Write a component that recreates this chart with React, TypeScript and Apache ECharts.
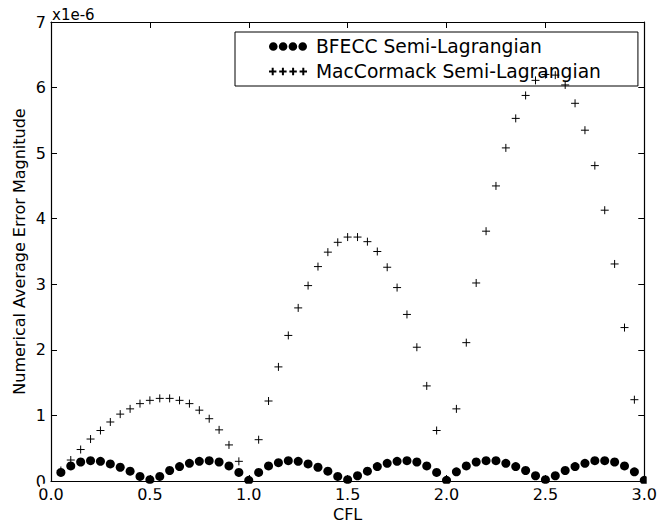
import React, { useEffect, useRef } from "react";
import * as echarts from "echarts";

// CFL values (x axis)
const cfl = [
  0.05, 0.1, 0.15, 0.2, 0.25, 0.3, 0.35, 0.4, 0.45, 0.5,
  0.55, 0.6, 0.65, 0.7, 0.75, 0.8, 0.85, 0.9, 0.95, 1.0,
  1.05, 1.1, 1.15, 1.2, 1.25, 1.3, 1.35, 1.4, 1.45, 1.5,
  1.55, 1.6, 1.65, 1.7, 1.75, 1.8, 1.85, 1.9, 1.95, 2.0,
  2.05, 2.1, 2.15, 2.2, 2.25, 2.3, 2.35, 2.4, 2.45, 2.5,
  2.55, 2.6, 2.65, 2.7, 2.75, 2.8, 2.85, 2.9, 2.95, 3.0,
];

// Error magnitudes in units of 1e-6
const bfeccErr = [
  0.13, 0.23, 0.29, 0.31, 0.30, 0.26, 0.21, 0.15, 0.07, 0.02,
  0.07, 0.16, 0.22, 0.27, 0.30, 0.31, 0.29, 0.23, 0.13, 0.01,
  0.13, 0.23, 0.28, 0.31, 0.30, 0.26, 0.21, 0.15, 0.07, 0.02,
  0.08, 0.15, 0.22, 0.27, 0.30, 0.31, 0.29, 0.23, 0.13, 0.01,
  0.14, 0.23, 0.29, 0.31, 0.31, 0.27, 0.22, 0.16, 0.08, 0.02,
  0.08, 0.16, 0.22, 0.27, 0.31, 0.31, 0.29, 0.23, 0.14, 0.01,
];

const macCormackErr = [
  0.16, 0.32, 0.48, 0.64, 0.77, 0.90, 1.02, 1.10, 1.18, 1.23,
  1.26, 1.26, 1.23, 1.18, 1.08, 0.95, 0.78, 0.55, 0.30, 0.0,
  0.63, 1.22, 1.74, 2.22, 2.64, 2.98, 3.27, 3.49, 3.64, 3.72,
  3.72, 3.65, 3.50, 3.26, 2.95, 2.54, 2.04, 1.45, 0.77, 0.0,
  1.10, 2.11, 3.02, 3.81, 4.50, 5.08, 5.53, 5.88, 6.11, 6.20,
  6.19, 6.04, 5.76, 5.35, 4.81, 4.13, 3.31, 2.34, 1.24, 0.0,
];

const seriesNames = ["BFECC Semi-Lagrangian", "MacCormack Semi-Lagrangian"];
const xTitle = "CFL";
const yTitle = "Numerical Average Error Magnitude";
const offsetText = "x1e-6";

const FONT = "DejaVu Sans";

function circlesPath(): string {
  const r = 4.3;
  let d = "";
  for (let i = 0; i < 4; i++) {
    const cx = r + i * 9.8;
    d += `M${cx - r},${r}A${r},${r},0,1,1,${cx + r},${r}A${r},${r},0,1,1,${cx - r},${r}Z`;
  }
  return "path://" + d;
}

function plusesPath(): string {
  let d = "";
  for (let i = 0; i < 4; i++) {
    const x0 = i * 10.2;
    d += `M${x0},4.3L${x0 + 7.4},4.3M${x0 + 3.7},0.6L${x0 + 3.7},8`;
  }
  return "path://" + d;
}

export default function App() {
  const ref = useRef<HTMLDivElement>(null);
  useEffect(() => {
    if (!ref.current) return;
    const chart = echarts.init(ref.current, undefined, { renderer: "svg" });
    const axisCommon = {
      type: "value" as const,
      axisLine: { show: true, onZero: false, lineStyle: { color: "#000", width: 1.2 } },
      axisTick: { show: true, inside: true, length: 6, lineStyle: { color: "#000", width: 1 } },
      splitLine: { show: false },
    };
    chart.setOption({
      animation: false,
      backgroundColor: "#fff",
      textStyle: { fontFamily: FONT },
      grid: { left: 51, right: 14, top: 22, bottom: 44, containLabel: false },
      xAxis: [
        {
          ...axisCommon,
          position: "bottom",
          min: 0,
          max: 3,
          interval: 0.5,
          axisLabel: {
            color: "#000",
            fontSize: 16,
            fontFamily: FONT,
            margin: 5,
            formatter: (v: number) => v.toFixed(1),
          },
          name: xTitle,
          nameLocation: "middle",
          nameGap: 25,
          nameMoveOverlap: false,
          nameTextStyle: { color: "#000", fontSize: 16, fontFamily: FONT },
        },
        {
          ...axisCommon,
          position: "top",
          min: 0,
          max: 3,
          interval: 0.5,
          axisLabel: { show: false },
        },
      ],
      yAxis: [
        {
          ...axisCommon,
          position: "left",
          min: 0,
          max: 7,
          interval: 1,
          axisLabel: {
            color: "#000",
            fontSize: 16,
            fontFamily: FONT,
            margin: 5,
          },
          name: yTitle,
          nameLocation: "middle",
          nameGap: 24,
          nameMoveOverlap: false,
          nameTextStyle: { color: "#000", fontSize: 16, fontFamily: FONT },
        },
        {
          ...axisCommon,
          position: "right",
          min: 0,
          max: 7,
          interval: 1,
          axisLabel: { show: false },
        },
      ],
      legend: {
        left: 235,
        top: 32,
        orient: "vertical",
        backgroundColor: "#fff",
        borderColor: "#000",
        borderWidth: 1,
        borderRadius: 0,
        padding: [5, 37, 5, 33],
        itemGap: 6,
        itemWidth: 38,
        itemHeight: 9,
        selectedMode: false,
        textStyle: { color: "#000", fontSize: 18.7, fontFamily: FONT, padding: [0, 0, 0, 4] },
        data: [
          { name: seriesNames[0], icon: circlesPath() },
          { name: seriesNames[1], icon: plusesPath() },
        ],
        z: 1,
      },
      graphic: [
        {
          type: "text",
          left: 52,
          top: 7,
          style: { text: offsetText, fill: "#000", font: `15px "${FONT}"` },
        },
        // clip marks that spill past the bottom / right frame lines
        {
          type: "rect",
          shape: { x: 40, y: 483.7, width: 620, height: 4.5 },
          style: { fill: "#fff" },
          z: 100,
        },
        {
          type: "rect",
          shape: { x: 646.7, y: 470, width: 10, height: 18 },
          style: { fill: "#fff" },
          z: 100,
        },
      ],
      series: [
        {
          name: seriesNames[0],
          type: "scatter",
          xAxisIndex: 0,
          yAxisIndex: 0,
          symbol: "circle",
          symbolSize: 9,
          itemStyle: { color: "#000", opacity: 1 },
          data: cfl.map((x, i) => [x, bfeccErr[i]]),
          z: 3,
        },
        {
          name: seriesNames[1],
          type: "scatter",
          xAxisIndex: 0,
          yAxisIndex: 0,
          symbol: "path://M0,4L8,4M4,0L4,8",
          symbolSize: 8,
          itemStyle: { color: "transparent", borderColor: "#000", borderWidth: 1, opacity: 1 },
          data: cfl.map((x, i) => [x, macCormackErr[i]]),
          z: 4,
        },
      ],
    });
    return () => chart.dispose();
  }, []);
  return (
    <div
      ref={ref}
      style={{ position: "fixed", left: 0, top: 0, width: 660, height: 527 }}
    />
  );
}
